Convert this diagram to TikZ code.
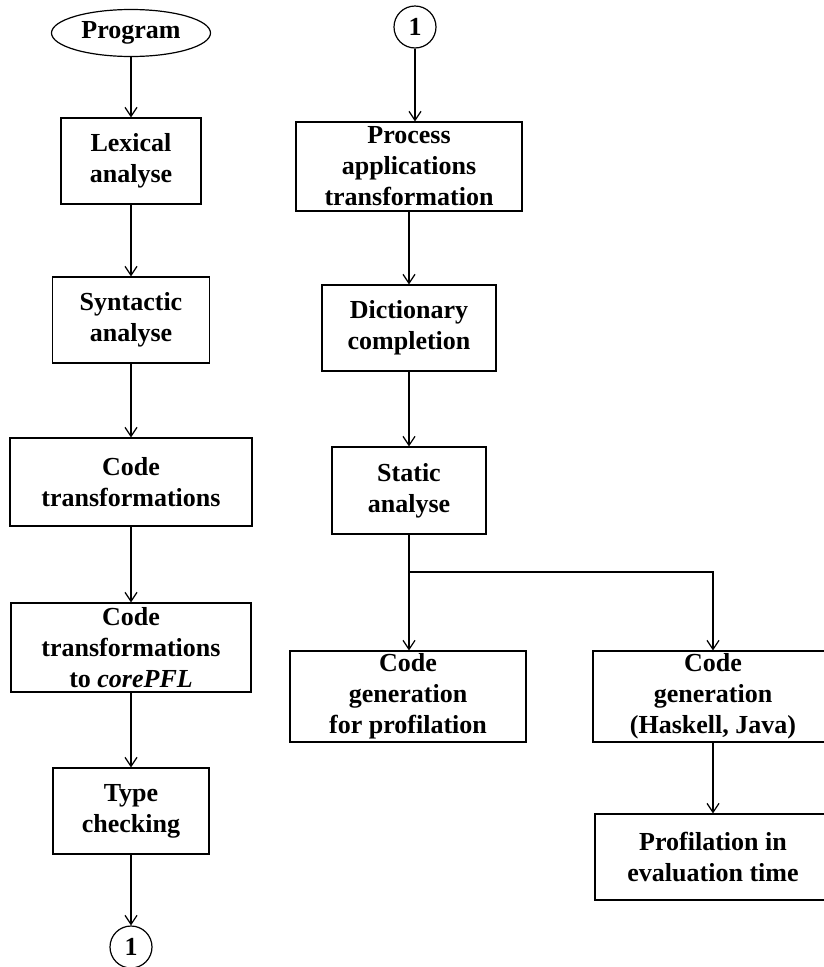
\documentclass[tikz,border=0pt]{standalone}
\usepackage{fontspec}
\setmainfont{Liberation Serif}
\usetikzlibrary{shapes.geometric,arrows.meta}

\begin{document}
\begin{tikzpicture}[x=1pt, y=-1pt, line width=1.2pt,
	box/.style={draw=black, text=black, shape=rectangle, align=center, inner sep=0pt, font=\fontsize{26}{31}\selectfont\bfseries},
	con/.style={draw=black, text=black, shape=circle, minimum size=42pt, inner sep=0pt, font=\fontsize{26}{31}\selectfont\bfseries},
	>={Straight Barb[length=9pt,width=12pt]}]
	\useasboundingbox (0,0) rectangle (823,967);

	% left column
	\node[draw=black, text=black, shape=ellipse, minimum width=159pt, minimum height=47pt, inner sep=0pt, font=\fontsize{26}{31}\selectfont\bfseries] (prog) at (131,33) {Program};
	\node[box, minimum width=140pt, minimum height=86pt] (s_1) at (131,161) {Lexical\\analyse};
	\node[box, minimum width=157pt, minimum height=86pt] (s_2) at (131,320) {Syntactic\\analyse};
	\node[box, minimum width=242pt, minimum height=88pt] (s_3) at (131,482) {Code\\transformations};
	\node[box, minimum width=240pt, minimum height=89pt] (s_4) at (131,647.5) {Code\\transformations\\to \textit{corePFL}};
	\node[box, minimum width=156pt, minimum height=86pt] (s_5) at (131,811) {Type\\checking};
	\node[con] (c_out) at (131,947) {1};

	% right column
	\node[con] (c_in) at (415,27) {1};
	\node[box, minimum width=226pt, minimum height=89pt] (t_1) at (409,166.5) {Process\\applications\\transformation};
	\node[box, minimum width=174pt, minimum height=86pt] (t_2) at (409,328) {Dictionary\\completion};
	\node[box, minimum width=154pt, minimum height=87pt] (t_3) at (409,490.5) {Static\\analyse};
	\coordinate (fork) at (409,572);
	\node[box, minimum width=236pt, minimum height=91pt] (t_4) at (408,696.5) {Code\\generation\\for profilation};
	\node[box, minimum width=240pt, minimum height=91pt] (t_5) at (713,696.5) {Code\\generation\\(Haskell, Java)};
	\node[box, minimum width=236pt, minimum height=86pt] (t_6) at (713,857) {Profilation in\\evaluation time};

	\draw[->] (prog.south) -- (s_1.north);
	\draw[->] (s_1.south) -- (s_2.north);
	\draw[->] (s_2.south) -- (s_3.north);
	\draw[->] (s_3.south) -- (s_4.north);
	\draw[->] (s_4.south) -- (s_5.north);
	\draw[->] (s_5.south) -- (c_out.north);

	\draw[->] (c_in.south) -- (c_in.south |- t_1.north);
	\draw[->] (t_1.south) -- (t_2.north);
	\draw[->] (t_2.south) -- (t_3.north);
	\draw (t_3.south) -- (fork);
	\draw[->] (fork) -- (fork |- t_4.north);
	\draw[->] (fork) -| (t_5.north);
	\draw[->] (t_5.south) -- (t_6.north);
\end{tikzpicture}
\end{document}
